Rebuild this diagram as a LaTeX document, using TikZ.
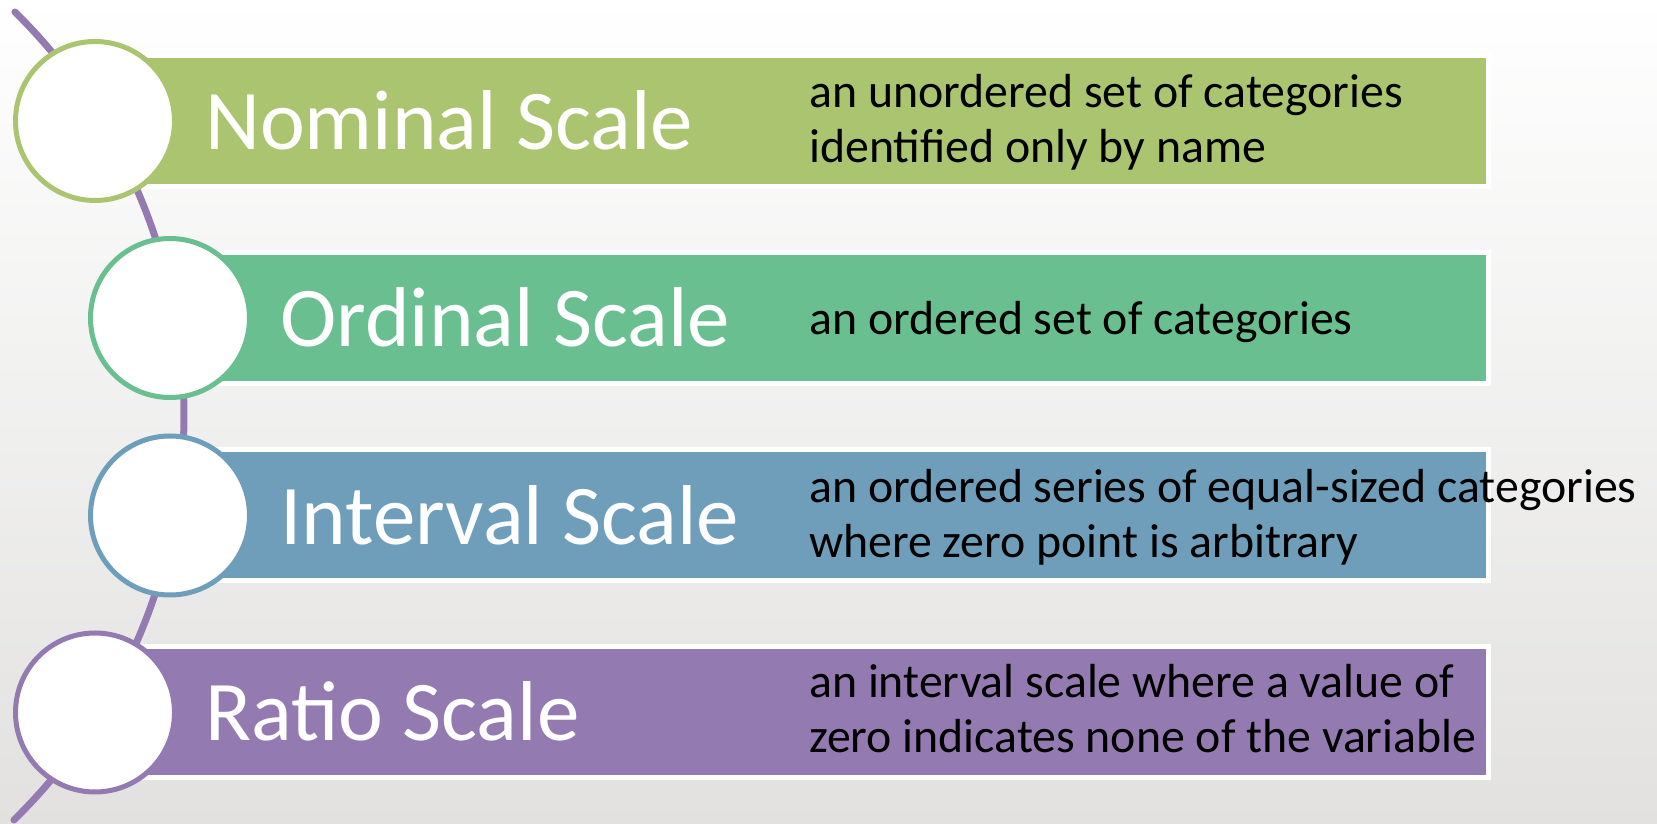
\documentclass[tikz,border=0pt]{standalone}
\usepackage{fontspec}
\setmainfont{Carlito}
\definecolor{nomc}{HTML}{ABC46F}
\definecolor{ordc}{HTML}{6ABF90}
\definecolor{intc}{HTML}{6F9EBA}
\definecolor{ratc}{HTML}{937BB1}
\definecolor{bgbottom}{HTML}{E2E1E0}
\begin{document}
\begin{tikzpicture}[x=1pt,y=1pt,
  bar/.style={fill=#1, draw=white, line width=5pt},
  disc/.style={circle, fill=white, draw=#1, line width=5pt, minimum size=159pt, inner sep=0pt},
  title/.style={anchor=base west, inner sep=0pt, text=white, font=\fontsize{85}{100}\selectfont},
  desc/.style={anchor=base west, inner sep=0pt, align=left, text=black, font=\fontsize{47.8}{55}\selectfont},
  spine/.style={draw=ratc, line width=7pt, line cap=round}]
\useasboundingbox (0,0) rectangle (1657,824);
\shade[top color=white, bottom color=bgbottom] (0,0) rectangle (1657,824);
% curved spine behind the discs
\coordinate (arcc) at (-382.2,408.5);
\draw[spine] (arcc) ++(45.45:566.2) arc[start angle=45.45, end angle=-45.6, radius=566.2];
% coloured bands
\draw[bar=nomc] (95,637.5) rectangle (1488.5,768.5);
\draw[bar=ordc] (170,440.5) rectangle (1488.5,571.5);
\draw[bar=intc] (170,243) rectangle (1488.5,374);
\draw[bar=ratc] (95,46) rectangle (1488.5,177);
% discs
\node[disc=nomc] (c1) at (95,703) {};
\node[disc=ordc] (c2) at (170,506) {};
\node[disc=intc] (c3) at (170,308.5) {};
\node[disc=ratc] (c4) at (95,111.5) {};
% titles
\node[title] (t1) at (205,674) {Nominal Scale};
\node[title] (t2) at (280,477) {Ordinal Scale};
\node[title] (t3) at (280,279) {Interval Scale};
\node[title] (t4) at (205,83) {Ratio Scale};
% descriptions (anchored on the baseline of the last line)
\node[desc] (d1) at (809,661) {an unordered set of categories\\identified only by name};
\node[desc] (d2) at (809,489) {an ordered set of categories};
\node[desc] (d3) at (809,266) {an ordered series of equal-sized categories\\where zero point is arbitrary};
\node[desc] (d4) at (809,71) {an interval scale where a value of\\zero indicates none of the variable};
\end{tikzpicture}
\end{document}
